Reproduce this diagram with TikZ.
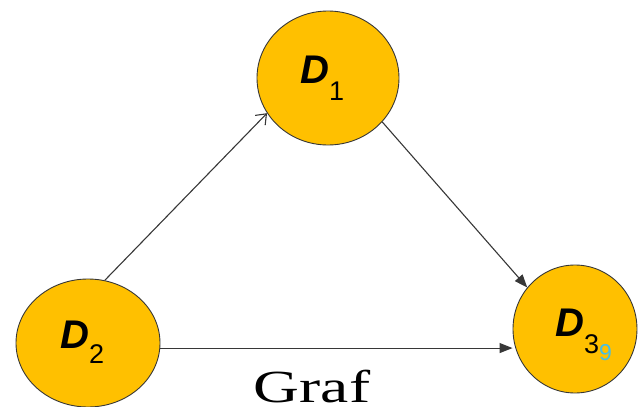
\documentclass[tikz,border=0pt]{standalone}
\usepackage{fontspec}
\setmainfont{Liberation Serif}
\newfontfamily\arialf{Liberation Sans}
\usetikzlibrary{shapes.geometric,arrows.meta}
\definecolor{gold}{RGB}{255,192,0}
\definecolor{rim}{RGB}{55,55,55}
\definecolor{cyanish}{RGB}{70,190,230}
\tikzset{
  vert/.style={ellipse,draw=rim,fill=gold,line width=0.9pt,inner sep=0pt},
  vlab/.style={anchor=base west,inner sep=0pt,font=\arialf},
  conn/.style={draw=rim,line width=1.1pt},
  openhead/.style={-{Straight Barb[length=9pt,width=14pt,line width=1.1pt]}},
  fullhead/.style={-{Triangle[length=13pt,width=10pt]}}
}
\newcommand{\dname}[2]{{\fontsize{40}{40}\selectfont\bfseries\itshape D}\raisebox{#2}{\fontsize{27}{27}\selectfont #1}}
\begin{document}
\begin{tikzpicture}[x=1pt,y=-1pt]
\useasboundingbox (0,0) rectangle (638,407);
\node[vert,minimum width=142pt,minimum height=134pt] (d1) at (328,78) {};
\node[vert,minimum width=144pt,minimum height=128pt] (d2) at (88,343) {};
\node[vert,minimum width=124pt,minimum height=128pt] (d3) at (575,329) {};
\node[vlab] (l1) at (300,83) {\dname{1}{-17pt}};
\node[vlab] (l2) at (60,348) {\dname{2}{-15pt}};
\node[vlab] (l3) at (555,336) {\dname{3}{-17pt}\raisebox{-24pt}{\color{cyanish}\fontsize{23}{23}\selectfont 9}};
\draw[conn,openhead] (d2.75) -- (d1.210);
\draw[conn,fullhead] (d1.-39) -- (d3.139);
\draw[conn,fullhead] (d2.-4) -- (d2.-4 -| d3.west);
\node[anchor=base,inner sep=0pt,font=\fontsize{46}{46}\selectfont] (graf) at (312,402) {\scalebox{1.38}[1]{Graf}};
\end{tikzpicture}
\end{document}
